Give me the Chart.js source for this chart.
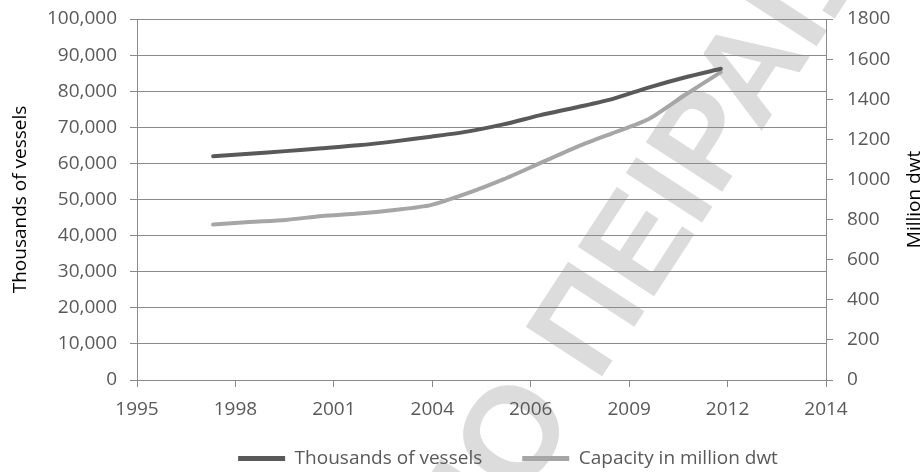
<!DOCTYPE html>
<html>
<head>
<meta charset="utf-8">
<script src="https://cdn.jsdelivr.net/npm/chart.js@4/dist/chart.umd.min.js"></script>
<style>
  html, body { margin: 0; padding: 0; background: #fff; }
</style>
</head>
<body>
<canvas id="chart" width="924" height="472"></canvas>
<script>
// data
const years = [1998, 1999, 2000, 2001, 2002, 2003, 2004, 2005, 2006, 2007, 2008, 2009, 2010, 2011, 2012];
const vessels = [62000, 62700, 63400, 64200, 65000, 66100, 67400, 68800, 70800, 73300, 75500, 77800, 81000, 83800, 86200];
const capacity = [775, 788, 798, 818, 830, 848, 872, 930, 1000, 1080, 1160, 1230, 1300, 1420, 1535];
const xTickLabels = ['1995', '1998', '2001', '2004', '2006', '2009', '2012', '2014'];
const xRange = [1995.9, 2014.9];

const leftTitle = 'Thousands of vessels';
const rightTitle = 'Million dwt';
const watermarkText = 'ΠΑΝΕΠΙΣΤΗΜΙΟ ΠΕΙΡΑΙΩΣ';

const FONT = '"Open Sans", "Noto Sans", sans-serif';
const GRID = '#8a8a8a';

// faded university watermark behind the chart
const watermark = {
  id: 'watermark',
  beforeDraw(chart) {
    const ctx = chart.ctx;
    ctx.save();
    ctx.font = 'bold 132px "Liberation Sans", Arial, sans-serif';
    ctx.fillStyle = '#dcdcdc';
    ctx.translate(510, 432);
    ctx.rotate(-57 * Math.PI / 180);
    const pre = watermarkText.slice(0, watermarkText.indexOf('Ο '));
    const wPre = ctx.measureText(pre).width;
    const wO = ctx.measureText('Ο').width;
    // centre of the last "Ο" of the first word sits on the anchor
    ctx.textBaseline = 'alphabetic';
    ctx.fillText(watermarkText, -(wPre + wO / 2), 47);
    ctx.restore();
  }
};

// right axis title reads bottom-to-top like the left one
const rightAxisTitle = {
  id: 'rightAxisTitle',
  afterDraw(chart) {
    const s = chart.scales.y1;
    const ctx = chart.ctx;
    ctx.save();
    ctx.font = '19px ' + FONT;
    ctx.fillStyle = '#000';
    ctx.textAlign = 'center';
    ctx.textBaseline = 'middle';
    ctx.translate(915, (s.top + s.bottom) / 2);
    ctx.rotate(-Math.PI / 2);
    ctx.fillText(rightTitle, 0, 0);
    ctx.restore();
  }
};

// legend sits a bit right of centre in the original; x labels may run into the legend band
const layoutTweaks = {
  id: 'layoutTweaks',
  afterLayout(chart) {
    chart.legend.left += 46;
    chart.legend.right += 46;
    chart.scales.x.bottom = chart.height;
  }
};

function noVerticalPad(scale) {
  scale.paddingTop = 0;
  scale.paddingBottom = 0;
}

new Chart(document.getElementById('chart'), {
  type: 'line',
  data: {
    datasets: [{
      label: 'Thousands of vessels',
      data: years.map((y, i) => ({ x: y, y: vessels[i] })),
      yAxisID: 'y',
      borderColor: '#595959',
      backgroundColor: '#595959',
      borderWidth: 4,
      pointRadius: 0,
      tension: 0.25,
      borderCapStyle: 'round'
    }, {
      label: 'Capacity in million dwt',
      data: years.map((y, i) => ({ x: y, y: capacity[i] })),
      yAxisID: 'y1',
      borderColor: '#a6a6a6',
      backgroundColor: '#a6a6a6',
      borderWidth: 4,
      pointRadius: 0,
      tension: 0.25,
      borderCapStyle: 'round'
    }]
  },
  options: {
    responsive: false,
    animation: false,
    devicePixelRatio: 1,
    layout: { padding: { top: 19, left: 0, right: 0, bottom: -6 } },
    plugins: {
      tooltip: { enabled: false },
      legend: {
        position: 'bottom',
        labels: {
          boxWidth: 47,
          boxHeight: 5,
          padding: 40,
          color: '#595959',
          font: { family: FONT, size: 19 },
          generateLabels(chart) {
            const items = Chart.defaults.plugins.legend.labels.generateLabels(chart);
            items.forEach(it => { it.lineWidth = 0; it.fillStyle = it.strokeStyle; });
            return items;
          }
        }
      }
    },
    scales: {
      x: {
        type: 'linear',
        min: xRange[0],
        max: xRange[1],
        afterBuildTicks(scale) {
          const step = (xRange[1] - xRange[0]) / (xTickLabels.length - 1);
          scale.ticks = xTickLabels.map((_, i) => ({ value: xRange[0] + i * step }));
        },
        afterFit(scale) { scale.height = 29; },
        ticks: {
          autoSkip: false,
          maxRotation: 0,
          padding: 11,
          color: '#595959',
          font: { family: FONT, size: 19 },
          callback: (v, i) => xTickLabels[i]
        },
        grid: { drawOnChartArea: false, drawTicks: true, tickLength: 7, color: GRID },
        border: { display: true, color: GRID }
      },
      y: {
        position: 'left',
        min: 0,
        max: 100000,
        afterFit(scale) { scale.width = 137; noVerticalPad(scale); },
        ticks: {
          stepSize: 10000,
          padding: 13,
          color: '#595959',
          font: { family: FONT, size: 19 },
          callback: v => v.toLocaleString('en-US')
        },
        grid: { color: GRID, tickLength: 7 },
        border: { display: true, color: GRID },
        title: {
          display: true,
          text: leftTitle,
          color: '#000',
          font: { family: FONT, size: 19 },
          padding: { top: 9, bottom: 0 }
        }
      },
      y1: {
        position: 'right',
        min: 0,
        max: 1800,
        afterFit(scale) { scale.width = 98; noVerticalPad(scale); },
        ticks: {
          stepSize: 200,
          padding: 14,
          color: '#595959',
          font: { family: FONT, size: 19 },
          callback: v => String(v)
        },
        grid: { drawOnChartArea: false, tickLength: 7, color: GRID },
        border: { display: true, color: GRID }
      }
    }
  },
  plugins: [watermark, rightAxisTitle, layoutTweaks]
});
</script>
</body>
</html>
